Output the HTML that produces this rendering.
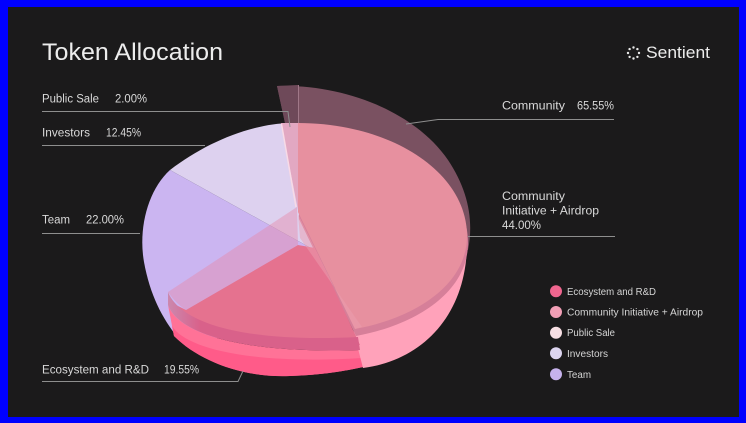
<!DOCTYPE html>
<html>
<head>
<meta charset="utf-8">
<style>
html,body{margin:0;padding:0;background:#0000ff;width:746px;height:423px;overflow:hidden}
svg{display:block}
text{font-family:"Liberation Sans",sans-serif}
</style>
</head>
<body>
<svg width="746" height="423" viewBox="0 0 746 423" xmlns="http://www.w3.org/2000/svg">
  <defs>
    <linearGradient id="band" x1="168" y1="0" x2="200" y2="0" gradientUnits="userSpaceOnUse">
      <stop offset="0" stop-color="#cb88ae"/>
      <stop offset="1" stop-color="#d9618a"/>
    </linearGradient>
  </defs>
  <rect x="0" y="0" width="746" height="423" fill="#0000ff"/>
  <rect x="8" y="7" width="731" height="410" fill="#1b1a1b"/>

  <!-- Community shell -->
  <path d="M277,86 C345,84 415,112 448,160 C468,190 474,220 468,250 L300,235 L285,123 Z" fill="#7a5161"/>
  <path d="M277,86 L298,85 L298,123 L285,123 Z" fill="#6e4959"/>
  <line x1="298.5" y1="85" x2="298.5" y2="123" stroke="#a07888" stroke-width="1"/>

  <!-- Investors -->
  <path d="M318,252 L170,170 C205,143 250,124 290,123 L300,123 Z" fill="#ddd1ef"/>
  <!-- Team -->
  <path d="M318,252 L170,170 C148,190 138,228 144,262 C150,295 162,318 178,338 L318,338 Z" fill="#cbb5f1"/>
  <!-- Public Sale -->
  <path d="M281,123 L298,123 L298,210 Z" fill="#e2a8c2"/>
  <line x1="281.5" y1="124" x2="296" y2="207" stroke="#f8dae6" stroke-width="1.5"/>

  <!-- Hot pink base (Ecosystem body) -->
  <path d="M168,305 C178,333 240,354 360,350 L363,367 C345,371 322,375 290,376 C245,378 200,362 174,336 Z" fill="#ff7297"/>
  <path d="M172,326 C185,348 250,365 362,358 L363,367 C345,371 322,375 290,376 C245,378 200,362 174,336 Z" fill="#ff5b89"/>

  <!-- CI base -->
  <path d="M298,212 L467,236 L467,240 C468,312 425,360 363,368 L353,329 Z" fill="#ffa2ba"/>
  <!-- CI dark band -->
  <path d="M299,219 L299,130 C392,130 468,179 468,243 C468,292 416,325 356,336 Z" fill="#d67f99"/>

  <!-- Ecosystem lower face -->
  <path d="M298,245 L186,310 L170,302 C182,332 240,350 360,345 L315,248 Z" fill="#e5728f"/>
  <!-- Ecosystem side band -->
  <path d="M168,292 C180,322 240,343 358,337 L360,350 C240,354 178,333 168,305 Z" fill="url(#band)"/>
  <!-- Translucent slab over lavender -->
  <path d="M297,207 L168,292 C175,302 180,306 186,310 L298,245 Z" fill="#e68aaa" fill-opacity="0.45"/>

  <!-- CI top face -->
  <path d="M298,212 L298,123 C391,123 467,172 467,236 C467,285 415,318 355,329 Z" fill="#e7909f"/>
  <path d="M298,214 L355,329 L362,327 L300,238 Z" fill="#eb9db0" fill-opacity="0.5"/>

  <!-- leader lines -->
  <g stroke="#8e8e8e" stroke-width="1" fill="none">
    <polyline points="42,111.5 288,111.5 290,127"/>
    <polyline points="42,145.5 205,145.5"/>
    <polyline points="42,233.5 140,233.5"/>
    <polyline points="42,381.5 238,381.5 243,371"/>
    <polyline points="406,124 438,119.5 614,119.5"/>
    <polyline points="468,236.5 615,236.5"/>
  </g>

  <!-- Title -->
  <text x="42" y="60" font-size="24" fill="#ededed" textLength="181" lengthAdjust="spacingAndGlyphs">Token Allocation</text>

  <!-- Sentient logo -->
  <g fill="#e8e8e8">
    <circle cx="633.5" cy="47.5" r="1.2"/>
    <circle cx="637.4" cy="49.1" r="1.2"/>
    <circle cx="639" cy="53" r="1.2"/>
    <circle cx="637.4" cy="56.9" r="1.2"/>
    <circle cx="633.5" cy="58.5" r="1.2"/>
    <circle cx="629.6" cy="56.9" r="1.2"/>
    <circle cx="628" cy="53" r="1.2"/>
    <circle cx="629.6" cy="49.1" r="1.2"/>
  </g>
  <text x="646" y="58" font-size="16.5" fill="#ececec" textLength="64" lengthAdjust="spacingAndGlyphs">Sentient</text>

  <!-- labels -->
  <g font-size="11.5" fill="#d9d9d9">
    <text x="42" y="102.5" textLength="57" lengthAdjust="spacingAndGlyphs">Public Sale</text>
    <text x="115" y="102.5" textLength="32" lengthAdjust="spacingAndGlyphs">2.00%</text>
    <text x="42" y="136.5" textLength="48" lengthAdjust="spacingAndGlyphs">Investors</text>
    <text x="106" y="136.5" textLength="35" lengthAdjust="spacingAndGlyphs">12.45%</text>
    <text x="42" y="223.5" textLength="28" lengthAdjust="spacingAndGlyphs">Team</text>
    <text x="86" y="223.5" textLength="38" lengthAdjust="spacingAndGlyphs">22.00%</text>
    <text x="42" y="373.5" textLength="107" lengthAdjust="spacingAndGlyphs">Ecosystem and R&amp;D</text>
    <text x="164" y="373.5" textLength="35" lengthAdjust="spacingAndGlyphs">19.55%</text>
    <text x="502" y="109.5" textLength="63" lengthAdjust="spacingAndGlyphs">Community</text>
    <text x="577" y="109.5" textLength="37" lengthAdjust="spacingAndGlyphs">65.55%</text>
    <text x="502" y="200" textLength="63" lengthAdjust="spacingAndGlyphs">Community</text>
    <text x="502" y="214.5" textLength="97" lengthAdjust="spacingAndGlyphs">Initiative + Airdrop</text>
    <text x="502" y="229" textLength="39" lengthAdjust="spacingAndGlyphs">44.00%</text>
  </g>

  <!-- legend -->
  <circle cx="556" cy="291.3" r="6" fill="#f0668f"/>
  <circle cx="556" cy="312" r="6" fill="#f29fb6"/>
  <circle cx="556" cy="332.7" r="6" fill="#f7dfe4"/>
  <circle cx="556" cy="353.3" r="6" fill="#dcd4ef"/>
  <circle cx="556" cy="374.3" r="6" fill="#c6b2ec"/>
  <g font-size="10" fill="#d5d5d5">
    <text x="567" y="294.8" textLength="89" lengthAdjust="spacingAndGlyphs">Ecosystem and R&amp;D</text>
    <text x="567" y="315.5" textLength="136" lengthAdjust="spacingAndGlyphs">Community Initiative + Airdrop</text>
    <text x="567" y="336.2" textLength="48" lengthAdjust="spacingAndGlyphs">Public Sale</text>
    <text x="567" y="356.8" textLength="41" lengthAdjust="spacingAndGlyphs">Investors</text>
    <text x="567" y="377.8" textLength="24" lengthAdjust="spacingAndGlyphs">Team</text>
  </g>
</svg>
</body>
</html>
